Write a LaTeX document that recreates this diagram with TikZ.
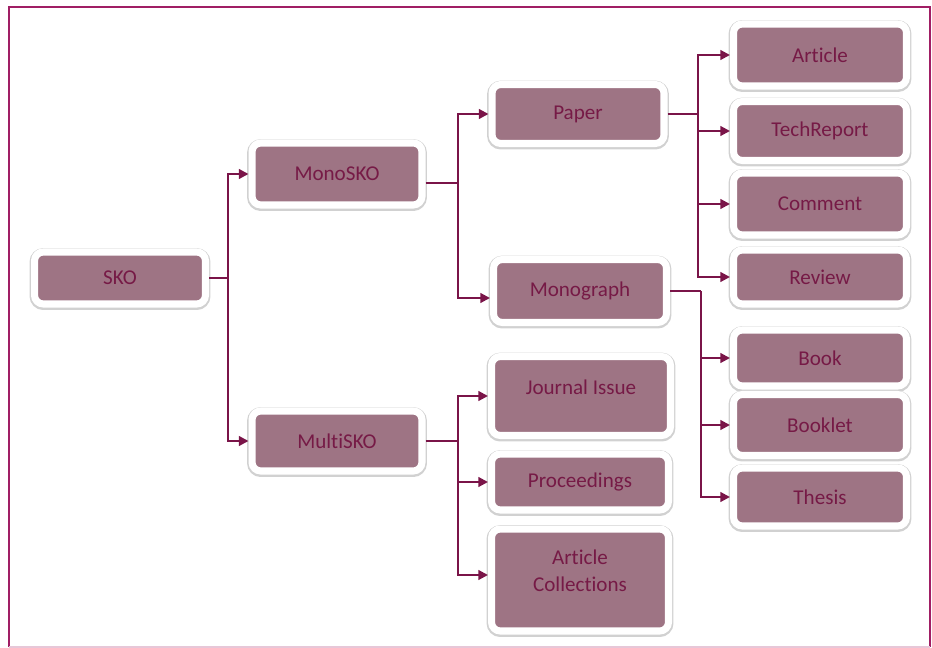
\documentclass[tikz,border=0pt]{standalone}
\usepackage{fontspec}
\setmainfont{Carlito}[Ligatures=NoCommon]
\usetikzlibrary{arrows.meta}
\definecolor{skoframe}{RGB}{160, 30, 100}
\definecolor{skofill}{RGB}{158, 116, 132}
\definecolor{skotext}{RGB}{118, 26, 70}
\definecolor{skoline}{RGB}{122, 20, 72}

\begin{document}
\begin{tikzpicture}[x=0.02cm, y=-0.02cm,
    box/.style={rectangle, rounded corners=5pt, fill=skofill, draw=white, line width=4pt,
        minimum width=3.46cm, text=skotext, font=\fontsize{12}{15}\selectfont,
        preaction={draw=black!18, line width=5.6pt, transform canvas={yshift=-0.6pt}}},
    link/.style={draw=skoline, line width=1.2pt},
    arr/.style={link, -{Triangle[length=5.5pt, width=5.5pt]}}]
    \useasboundingbox (0,0) rectangle (932,648);

    % Frame
    \draw[skoframe, line width=1.6pt] (9,647) -- (9,7) -- (930,7) -- (930,647);
    \draw[skoframe!25, line width=1pt] (9,647) -- (930,647);

    % Root and first level
    \node[box, minimum width=3.42cm, minimum height=1.04cm] (sko) at (120,278) {SKO};
    \node[box, minimum width=3.4cm, minimum height=1.24cm] (mono) at (337,174) {MonoSKO};
    \node[box, minimum width=3.4cm, minimum height=1.2cm] (multi) at (337,441) {MultiSKO};

    % Second level
    \node[box, minimum width=3.44cm, minimum height=1.18cm] (paper) at (578,114) {Paper};
    \node[box, minimum height=1.26cm] (monograph) at (580,291) {Monograph};
    \node[box, minimum width=3.58cm, inner sep=0pt, text height=0.76cm, text depth=0.82cm] (journal) at (581,396) {Journal Issue};
    \node[box, minimum width=3.54cm, minimum height=1.12cm] (proc) at (580,482) {Proceedings};
    \node[box, minimum width=3.54cm, inner sep=0pt, text height=1.24cm, text depth=0.8cm, align=center] (artcoll) at (580,580) {Article\\Collections};

    % Third level
    \node[box, minimum height=1.24cm] (article) at (820,55) {Article};
    \node[box, minimum height=1.18cm] (techreport) at (820,131) {TechReport};
    \node[box, minimum height=1.24cm] (comment) at (820,204) {Comment};
    \node[box, minimum height=1.08cm] (review) at (820,277) {Review};
    \node[box, minimum height=1.12cm] (book) at (820,358) {Book};
    \node[box, minimum height=1.22cm] (booklet) at (820,425) {Booklet};
    \node[box, minimum height=1.16cm] (thesis) at (820,497) {Thesis};

    % Connectors
    \coordinate (skoj) at (228,278);
    \draw[link] (sko) -- (skoj);
    \draw[arr] (skoj) |- (mono);
    \draw[arr] (skoj) |- (multi);

    \coordinate (monoj) at (458,183);
    \draw[link] (mono.east |- monoj) -- (monoj);
    \draw[arr] (monoj) |- (paper);
    \draw[arr] (monoj) |- ([yshift=-0.14cm]monograph.west);

    \coordinate (multij) at (458,441);
    \draw[link] (multi) -- (multij);
    \draw[arr] (multij) |- (journal);
    \draw[arr] (multij) |- (proc);
    \draw[arr] (multij) |- ([yshift=0.1cm]artcoll.west);

    \coordinate (paperj) at (698,114);
    \draw[link] (paper) -- (paperj);
    \draw[arr] (paperj) |- (article);
    \draw[arr] (paperj) |- (techreport);
    \draw[arr] (paperj) |- (comment);
    \draw[arr] (paperj) |- (review);

    \coordinate (monographj) at (701,291);
    \draw[link] (monograph) -- (monographj);
    \draw[arr] (monographj) |- (book);
    \draw[arr] (monographj) |- (booklet);
    \draw[arr] (monographj) |- (thesis);
\end{tikzpicture}
\end{document}
